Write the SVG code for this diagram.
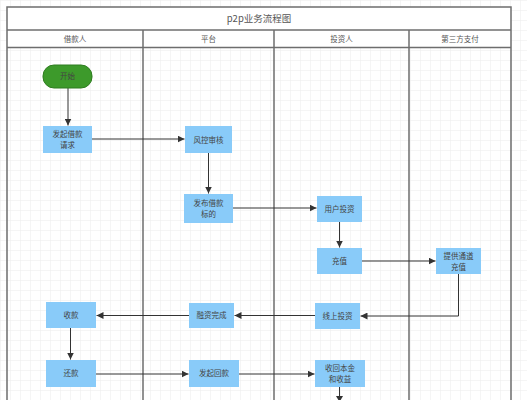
<svg xmlns="http://www.w3.org/2000/svg" width="527" height="400" viewBox="0 0 527 400">
<defs>
<pattern id="grid" width="10" height="10" patternUnits="userSpaceOnUse">
<path d="M10 0H0V10" fill="none" stroke="#ececec" stroke-width="1"/>
</pattern>
<marker id="arr" viewBox="0 0 10 10" refX="10" refY="5" markerWidth="7" markerHeight="7" markerUnits="userSpaceOnUse" orient="auto">
<path d="M0 0L10 5L0 10z" fill="#333"/>
</marker>
</defs>
<style>
.lane{fill:none;stroke:#6e6e6e;stroke-width:1.5}
.box{fill:#89cbf9}
.start{fill:#3d9a2b;stroke:#2f7d20;stroke-width:1}
.t{font-family:"Noto Sans CJK SC","Liberation Sans",sans-serif;font-size:7.5px;fill:#444;text-anchor:middle}
.h{font-family:"Noto Sans CJK SC","Liberation Sans",sans-serif;font-size:7.5px;fill:#555;text-anchor:middle}
.title{font-family:"Noto Sans CJK SC","Liberation Sans",sans-serif;font-size:9.5px;fill:#555;text-anchor:middle}
.c{fill:none;stroke:#333;stroke-width:1}
</style>
<rect width="527" height="400" fill="#ffffff"/>
<rect width="527" height="400" fill="url(#grid)"/>
<g id="pool">
<rect x="7" y="7" width="504" height="40.5" fill="#ffffff"/>
<rect class="lane" x="7" y="7" width="504" height="400"/>
<line class="lane" x1="7" y1="30" x2="511" y2="30"/>
<line class="lane" x1="7" y1="47.5" x2="511" y2="47.5"/>
<line class="lane" x1="143" y1="30" x2="143" y2="400"/>
<line class="lane" x1="274" y1="30" x2="274" y2="400"/>
<line class="lane" x1="409" y1="30" x2="409" y2="400"/>
<text class="title" x="259" y="22">p2p业务流程图</text>
<text class="h" x="75" y="41.5">借款人</text>
<text class="h" x="208.5" y="41.5">平台</text>
<text class="h" x="341.5" y="41.5">投资人</text>
<text class="h" x="460" y="41.5">第三方支付</text>
</g>
<g id="connectors">
<path class="c" d="M68 88V125.5" marker-end="url(#arr)"/>
<path class="c" d="M92 139H184.5" marker-end="url(#arr)"/>
<path class="c" d="M208.5 153V193.5" marker-end="url(#arr)"/>
<path class="c" d="M233 208H316.5" marker-end="url(#arr)"/>
<path class="c" d="M339.5 222V247.5" marker-end="url(#arr)"/>
<path class="c" d="M362 261H435.5" marker-end="url(#arr)"/>
<path class="c" d="M458.5 274V316H360.5" marker-end="url(#arr)"/>
<path class="c" d="M315 315.5H234.5" marker-end="url(#arr)"/>
<path class="c" d="M189 315.5H96.5" marker-end="url(#arr)"/>
<path class="c" d="M70.5 328V359.5" marker-end="url(#arr)"/>
<path class="c" d="M96 374H188.5" marker-end="url(#arr)"/>
<path class="c" d="M239 374H314.5" marker-end="url(#arr)"/>
<path class="c" d="M339.5 387V400"/>
<path d="M336 396L339.5 402L343 396z" fill="#333"/>
</g>
<g id="n-start"><rect class="start" x="43" y="65" width="49" height="23" rx="11" ry="11"/><text class="t" x="67.5" y="79">开始</text></g>
<g id="n-apply"><rect class="box" x="43" y="126" width="49" height="27"/><text class="t" x="67.5" y="137">发起借款</text><text class="t" x="67.5" y="147.5">请求</text></g>
<g id="n-risk"><rect class="box" x="185" y="126" width="47" height="27"/><text class="t" x="208.5" y="142.5">风控审核</text></g>
<g id="n-publish"><rect class="box" x="184" y="194" width="49" height="29"/><text class="t" x="208.5" y="206">发布借款</text><text class="t" x="208.5" y="216.5">标的</text></g>
<g id="n-invest"><rect class="box" x="317" y="196" width="45" height="26"/><text class="t" x="339.5" y="211.5">用户投资</text></g>
<g id="n-recharge"><rect class="box" x="317" y="248" width="45" height="26"/><text class="t" x="339.5" y="263.5">充值</text></g>
<g id="n-channel"><rect class="box" x="436" y="248" width="45" height="26"/><text class="t" x="458.5" y="259">提供通道</text><text class="t" x="458.5" y="269.5">充值</text></g>
<g id="n-online"><rect class="box" x="315" y="303" width="45" height="26"/><text class="t" x="337.5" y="318.5">线上投资</text></g>
<g id="n-done"><rect class="box" x="189" y="303" width="45" height="25"/><text class="t" x="211.5" y="318">融资完成</text></g>
<g id="n-receive"><rect class="box" x="46" y="302" width="50" height="26"/><text class="t" x="71" y="317.5">收款</text></g>
<g id="n-repay"><rect class="box" x="46" y="360" width="50" height="27"/><text class="t" x="71" y="376">还款</text></g>
<g id="n-payback"><rect class="box" x="189" y="360" width="50" height="27"/><text class="t" x="214" y="376">发起回款</text></g>
<g id="n-return"><rect class="box" x="315" y="360" width="50" height="27"/><text class="t" x="340" y="371">收回本金</text><text class="t" x="340" y="381.5">和收益</text></g>
</svg>
